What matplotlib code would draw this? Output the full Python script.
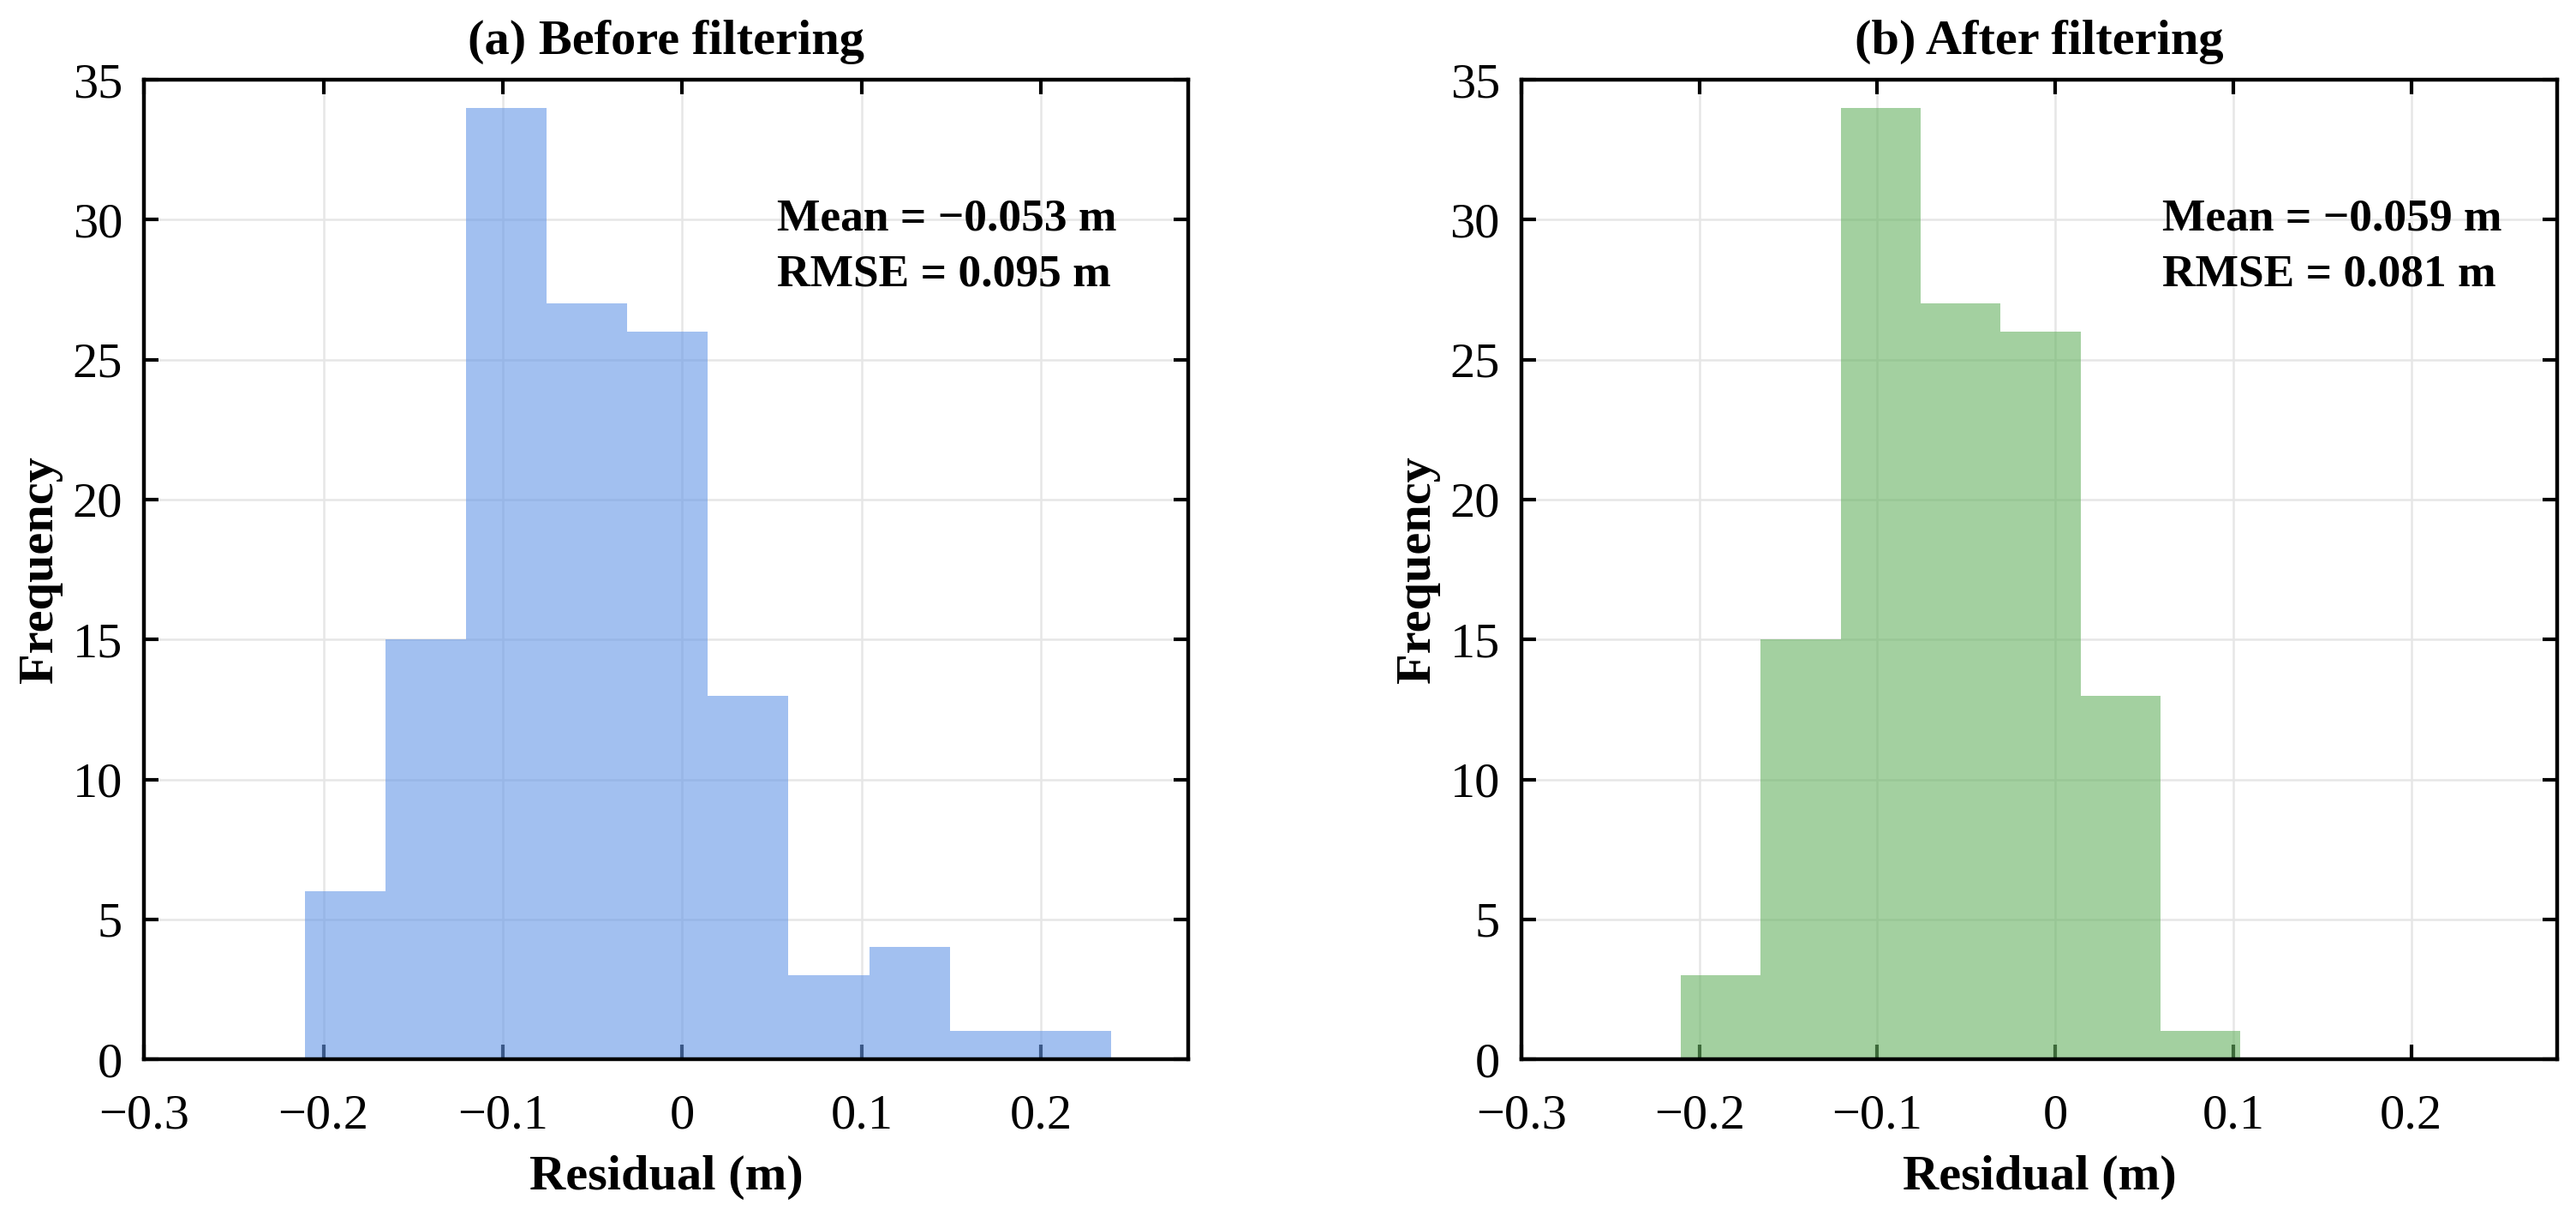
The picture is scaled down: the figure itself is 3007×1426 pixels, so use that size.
import numpy as np
import matplotlib
matplotlib.use("Agg")
import matplotlib.pyplot as plt

plt.rcParams["font.family"] = ["Liberation Serif", "DejaVu Serif"]

# histogram bin edges (m), shared by both panels
bin_edges = [-0.2105, -0.1656, -0.1206, -0.0757, -0.0307, 0.0142,
             0.0592, 0.1041, 0.1491, 0.1940, 0.2390]
counts_before = [6, 15, 34, 27, 26, 13, 3, 4, 1, 1]
counts_after = [3, 15, 34, 27, 26, 13, 1]

titles = ["(a) Before filtering", "(b) After filtering"]
stats_mean = ["Mean = \u22120.053 m", "Mean = \u22120.059 m"]
stats_rmse = ["RMSE = 0.095 m", "RMSE = 0.081 m"]

x_ticks = [-0.3, -0.2, -0.1, 0, 0.1, 0.2]
x_tick_labels = ["\u22120.3", "\u22120.2", "\u22120.1", "0", "0.1", "0.2"]
y_ticks = [0, 5, 10, 15, 20, 25, 30, 35]


def draw_panel(ax, counts, color, title, mean_txt, rmse_txt, text_x):
    edges = bin_edges[:len(counts) + 1]
    ax.grid(True, color="#e6e6e6", linewidth=1.8, zorder=0)
    ax.set_axisbelow(True)
    ax.stairs(counts, edges, fill=True, color=color, alpha=0.6,
              linewidth=0, zorder=2)
    ax.set_xlim(-0.3, 0.282)
    ax.set_ylim(0, 35)
    ax.set_xticks(x_ticks)
    ax.set_xticklabels(x_tick_labels)
    ax.set_yticks(y_ticks)
    ax.tick_params(direction="in", top=True, right=True, length=12,
                   width=3, labelsize=42)
    ax.tick_params(axis="x", pad=29)
    ax.tick_params(axis="y", pad=18)
    for sp in ax.spines.values():
        sp.set_linewidth(3.2)
        sp.set_zorder(5)
    ax.set_title(title, fontsize=42, fontweight="bold", pad=22)
    ax.set_xlabel("Residual (m)", fontsize=42, fontweight="bold", labelpad=14)
    ax.set_ylabel("Frequency", fontsize=42, fontweight="bold", labelpad=8)
    ax.text(text_x, 29.64, mean_txt, fontsize=38.5, fontweight="bold",
            va="baseline", ha="left", zorder=6)
    ax.text(text_x, 27.65, rmse_txt, fontsize=38.5, fontweight="bold",
            va="baseline", ha="left", zorder=6)


def main():
    fig = plt.figure(figsize=(30.07, 14.26), dpi=100)
    ax1 = fig.add_axes([0.0559, 0.1332, 0.4054, 0.8015])
    ax2 = fig.add_axes([0.5906, 0.1332, 0.4021, 0.8015])
    draw_panel(ax1, counts_before, "#6496e6", titles[0],
               stats_mean[0], stats_rmse[0], 0.053)
    draw_panel(ax2, counts_after, "#66b261", titles[1],
               stats_mean[1], stats_rmse[1], 0.060)
    fig.savefig("out.png", dpi=100)


if __name__ == "__main__":
    main()
